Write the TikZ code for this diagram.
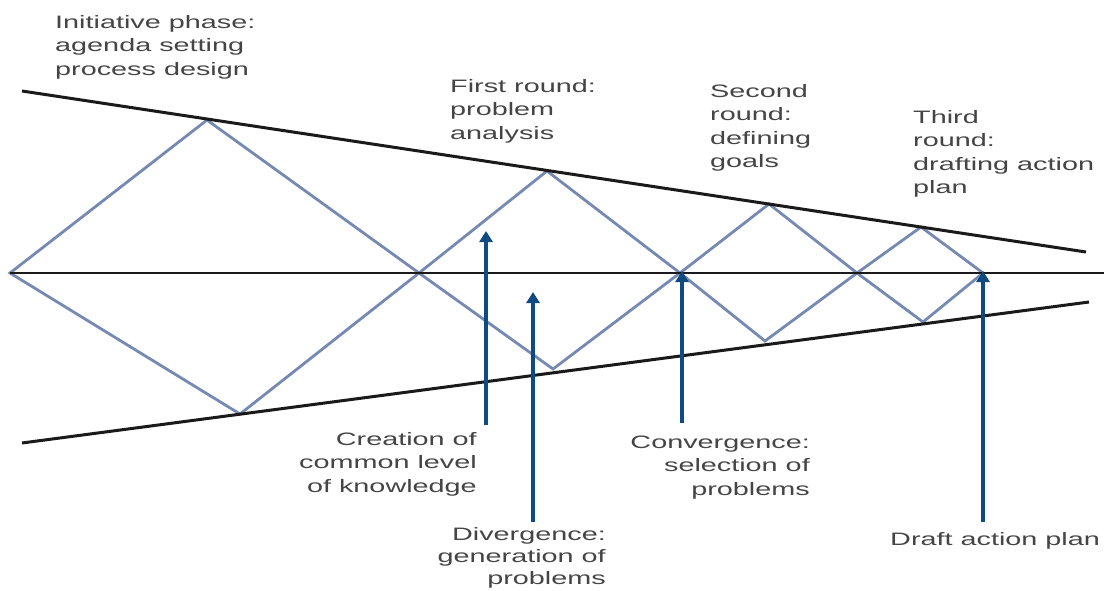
\documentclass[tikz,border=0pt]{standalone}
\usepackage{fontspec}
\setmainfont{Liberation Sans}
\usetikzlibrary{arrows.meta}
\definecolor{dia}{HTML}{7589B3}
\definecolor{arr}{HTML}{0F4A80}
\definecolor{txt}{HTML}{454545}
\definecolor{blk}{HTML}{1A1A1A}
\newcommand{\lblL}[1]{\scalebox{1.6}[1]{\begin{tabular}[t]{@{}l@{}}#1\end{tabular}}}
\newcommand{\lblR}[1]{\scalebox{1.6}[1]{\begin{tabular}[t]{@{}r@{}}#1\end{tabular}}}
\begin{document}
\begin{tikzpicture}[x=1pt,y=-1pt,
  diaedge/.style={draw=dia,line width=2.8pt,line join=miter},
  frame/.style={draw=blk,line width=3pt},
  axis/.style={draw=blk,line width=2.2pt},
  uparrow/.style={draw=arr,line width=3.4pt,-{Triangle[width=13pt,length=11pt]}},
  lbl/.style={inner sep=0pt,text=txt,font=\fontsize{18}{23.5}\selectfont}]
\useasboundingbox[fill=white] (0,0) rectangle (1104,590);
% frame lines
\coordinate (tl) at (22,91);
\coordinate (tr) at (1086,252);
\coordinate (bl) at (22,443);
\coordinate (br) at (1089,302);
\coordinate (ml) at (10,273);
\coordinate (mr) at (1104,273);
% diamonds
\coordinate (d1l) at (10,273);
\coordinate (d1t) at (207,120);
\coordinate (d1r) at (419,273);
\coordinate (d1b) at (240,414);
\coordinate (d2t) at (547,171);
\coordinate (d2r) at (680,273);
\coordinate (d2b) at (553,369);
\coordinate (d3t) at (769,204);
\coordinate (d3r) at (857,273);
\coordinate (d3b) at (765,341);
\coordinate (d4t) at (921,227);
\coordinate (d4r) at (983,273);
\coordinate (d4b) at (923,322);
\draw[diaedge] (d1l) -- (d1t) -- (d1r) -- (d1b) -- cycle;
\draw[diaedge] (d1r) -- (d2t) -- (d2r) -- (d2b) -- cycle;
\draw[diaedge] (d2r) -- (d3t) -- (d3r) -- (d3b) -- cycle;
\draw[diaedge] (d3r) -- (d4t) -- (d4r) -- (d4b) -- cycle;
\draw[frame] (tl) -- (tr);
\draw[frame] (bl) -- (br);
\draw[axis] (ml) -- (mr);
% arrows
\coordinate (a1s) at (486,425);
\coordinate (a1e) at (486,231);
\coordinate (a2s) at (533,522);
\coordinate (a2e) at (533,292);
\coordinate (a3s) at (682,423);
\coordinate (a3e) at (682,271);
\coordinate (a4s) at (983,522);
\coordinate (a4e) at (983,271);
\draw[uparrow] (a1s) -- (a1e);
\draw[uparrow] (a2s) -- (a2e);
\draw[uparrow] (a3s) -- (a3e);
\draw[uparrow] (a4s) -- (a4e);
% labels
\node[lbl,anchor=base west] (initiative) at (55,28) {\lblL{Initiative phase:\\agenda setting\\process design}};
\node[lbl,anchor=base west] (first) at (450,92) {\lblL{First round:\\problem\\analysis}};
\node[lbl,anchor=base west] (second) at (710,97) {\lblL{Second\\round:\\defining\\goals}};
\node[lbl,anchor=base west] (third) at (913,123) {\lblL{Third\\round:\\drafting action\\plan}};
\node[lbl,anchor=base east] (creation) at (477,445) {\lblR{Creation of\\common level\\of knowledge}};
\node[lbl,anchor=base east,font=\fontsize{18}{22}\selectfont] (divergence) at (606,540) {\lblR{Divergence:\\generation of\\problems}};
\node[lbl,anchor=base east] (convergence) at (810,448) {\lblR{Convergence:\\selection of\\problems}};
\node[lbl,anchor=base west] (draft) at (890,545) {\lblL{Draft action plan}};
\end{tikzpicture}
\end{document}
